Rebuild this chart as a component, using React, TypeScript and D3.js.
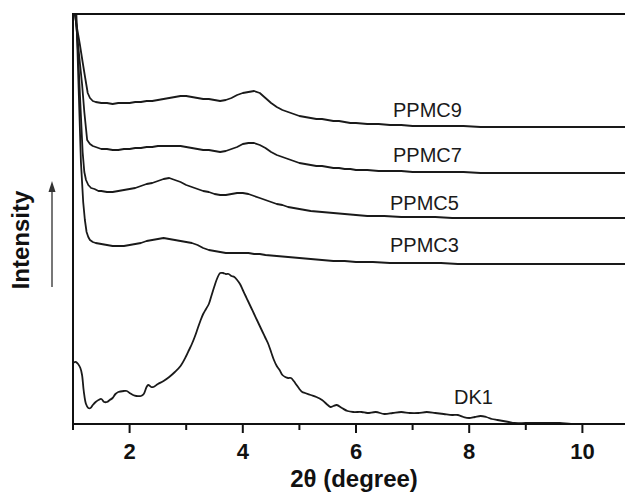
import React from 'react';
import * as d3 from 'd3';

// 2θ (degree) / intensity (arbitrary units, already offset per trace)
const ppmc9Theta = [1.00, 1.03, 1.08, 1.12, 1.17, 1.21, 1.26, 1.30, 1.35, 1.40, 1.50, 1.60, 1.70, 1.80, 1.90, 2.00, 2.10, 2.20, 2.30, 2.40, 2.50, 2.60, 2.70, 2.80, 2.90, 3.00, 3.10, 3.20, 3.30, 3.40, 3.50, 3.60, 3.70, 3.80, 3.90, 4.00, 4.10, 4.20, 4.30, 4.40, 4.50, 4.60, 4.70, 4.80, 4.90, 5.00, 5.10, 5.20, 5.30, 5.40, 5.50, 5.60, 5.70, 5.80, 5.90, 6.00, 6.20, 6.40, 6.60, 6.80, 7.00, 7.30, 7.60, 7.90, 8.20, 8.50, 8.80, 9.10, 9.40, 9.70, 10.00, 10.40, 10.80];
const ppmc9 = [450, 410, 393, 380, 362, 348, 331, 326, 323, 322, 321, 321, 320, 321, 321, 321, 322, 322, 323, 323, 324, 325, 326, 327, 328, 328, 327, 326, 325, 325, 324, 323, 324, 326, 329, 331, 332, 333, 331, 326, 321, 317, 314, 312, 310, 308, 307, 306, 305, 305, 304, 303, 303, 302, 301, 301, 300, 300, 299, 299, 298, 298, 298, 298, 297, 297, 297, 297, 297, 297, 297, 297, 297];

const ppmc7Theta = [1.00, 1.04, 1.08, 1.12, 1.16, 1.20, 1.25, 1.30, 1.35, 1.40, 1.50, 1.60, 1.70, 1.80, 1.90, 2.00, 2.10, 2.20, 2.30, 2.40, 2.50, 2.60, 2.70, 2.80, 2.90, 3.00, 3.10, 3.20, 3.30, 3.40, 3.50, 3.60, 3.70, 3.80, 3.90, 4.00, 4.10, 4.20, 4.30, 4.40, 4.50, 4.60, 4.70, 4.80, 4.90, 5.00, 5.10, 5.20, 5.30, 5.40, 5.50, 5.60, 5.70, 5.80, 5.90, 6.00, 6.20, 6.40, 6.60, 6.80, 7.00, 7.30, 7.60, 7.90, 8.20, 8.50, 8.80, 9.10, 9.40, 9.70, 10.00, 10.40, 10.80];
const ppmc7 = [450, 410, 385, 362, 340, 312, 284, 280, 278, 277, 275, 275, 274, 274, 275, 275, 276, 276, 277, 277, 278, 278, 278, 278, 278, 277, 276, 275, 274, 274, 273, 272, 273, 275, 277, 280, 281, 281, 279, 276, 272, 269, 267, 265, 263, 261, 260, 259, 258, 258, 257, 256, 256, 255, 255, 254, 254, 253, 253, 253, 252, 252, 252, 252, 251, 251, 251, 251, 251, 251, 251, 251, 251];

const ppmc5Theta = [1.00, 1.05, 1.09, 1.13, 1.17, 1.20, 1.23, 1.27, 1.32, 1.38, 1.45, 1.50, 1.60, 1.70, 1.80, 1.90, 2.00, 2.10, 2.20, 2.30, 2.40, 2.50, 2.60, 2.70, 2.80, 2.90, 3.00, 3.10, 3.20, 3.30, 3.40, 3.50, 3.60, 3.70, 3.80, 3.90, 4.00, 4.10, 4.20, 4.30, 4.40, 4.50, 4.60, 4.70, 4.80, 4.90, 5.00, 5.10, 5.20, 5.40, 5.60, 5.80, 6.00, 6.20, 6.50, 6.80, 7.10, 7.40, 7.70, 8.00, 8.30, 8.60, 8.90, 9.20, 9.50, 9.80, 10.10, 10.40, 10.80];
const ppmc5 = [450, 410, 370, 320, 272, 252, 244, 239, 236, 235, 233, 233, 232, 232, 233, 234, 235, 236, 238, 240, 241, 243, 245, 246, 244, 242, 239, 237, 235, 233, 232, 230, 229, 229, 230, 231, 231, 230, 228, 226, 224, 222, 220, 219, 217, 216, 215, 214, 213, 212, 211, 210, 209, 208, 208, 207, 207, 207, 206, 206, 206, 206, 206, 206, 206, 206, 206, 206, 206];

const ppmc3Theta = [1.00, 1.06, 1.10, 1.14, 1.18, 1.21, 1.24, 1.27, 1.30, 1.35, 1.40, 1.50, 1.60, 1.70, 1.80, 1.90, 2.00, 2.10, 2.20, 2.30, 2.40, 2.50, 2.60, 2.70, 2.80, 2.90, 3.00, 3.10, 3.20, 3.30, 3.40, 3.50, 3.60, 3.70, 3.80, 3.90, 4.00, 4.10, 4.20, 4.30, 4.40, 4.60, 4.80, 5.00, 5.20, 5.40, 5.60, 5.80, 6.00, 6.30, 6.60, 6.90, 7.20, 7.50, 7.80, 8.10, 8.40, 8.70, 9.00, 9.30, 9.60, 9.90, 10.20, 10.50, 10.80];
const ppmc3 = [450, 410, 335, 262, 222, 204, 192, 187, 184, 182, 181, 180, 179, 178, 178, 178, 179, 180, 181, 183, 184, 185, 186, 185, 184, 183, 182, 181, 179, 176, 174, 173, 172, 171, 171, 171, 171, 171, 170, 170, 169, 168, 167, 166, 165, 164, 163, 163, 162, 162, 161, 161, 161, 161, 160, 160, 160, 160, 160, 160, 160, 160, 160, 160, 160];

const dk1Theta = [1.00, 1.05, 1.09, 1.13, 1.16, 1.19, 1.23, 1.27, 1.31, 1.35, 1.40, 1.45, 1.50, 1.55, 1.60, 1.65, 1.70, 1.75, 1.80, 1.90, 1.95, 2.00, 2.06, 2.12, 2.20, 2.25, 2.30, 2.33, 2.38, 2.42, 2.50, 2.60, 2.70, 2.80, 2.90, 3.00, 3.05, 3.10, 3.15, 3.20, 3.25, 3.30, 3.35, 3.40, 3.45, 3.50, 3.55, 3.60, 3.65, 3.70, 3.75, 3.80, 3.85, 3.90, 3.95, 4.00, 4.05, 4.10, 4.15, 4.20, 4.25, 4.30, 4.35, 4.40, 4.45, 4.50, 4.55, 4.60, 4.65, 4.70, 4.75, 4.80, 4.85, 4.90, 4.95, 5.00, 5.05, 5.10, 5.20, 5.30, 5.40, 5.50, 5.55, 5.60, 5.66, 5.75, 5.85, 5.95, 6.10, 6.20, 6.35, 6.50, 6.65, 6.80, 6.95, 7.10, 7.25, 7.40, 7.55, 7.70, 7.80, 7.90, 8.00, 8.10, 8.20, 8.30, 8.40, 8.50, 8.60, 8.70, 8.80, 9.00, 9.20, 9.40, 9.60, 9.80, 10.00];
const dk1 = [61, 62, 60, 56, 49, 33, 20, 16, 16, 19, 22, 24, 25, 22, 22, 24, 26, 30, 32, 33, 33, 31, 29, 28, 28, 30, 37, 39, 37, 37, 40, 43, 47, 52, 58, 68, 74, 80, 87, 95, 103, 110, 115, 120, 129, 138, 146, 151, 151, 150, 150, 148, 147, 144, 140, 134, 128, 122, 116, 110, 104, 98, 92, 86, 80, 72, 64, 58, 54, 49, 47, 46, 46, 43, 39, 35, 32, 31, 29, 27, 24, 19, 17, 18, 19, 16, 13, 12, 12, 11, 12, 10, 11, 12, 11, 11, 12, 11, 10, 9, 9, 7, 6, 7, 8, 7, 5, 4, 3, 2, 1, 1, 1, 1, 1, 0, 0];

const seriesNames = ['PPMC9', 'PPMC7', 'PPMC5', 'PPMC3', 'DK1'];
const majorTicks = [2, 4, 6, 8, 10];
const minorTicks = [1, 3, 5, 7, 9];

const W = 625;
const H = 493;
const margin = {top: 14, left: 73, bottom: 69};

const App = () => {
    const x = d3.scaleLinear().domain([1, 11]).range([margin.left, margin.left + 566]);
    const y = d3.scaleLinear().domain([0, 410]).range([H - margin.bottom, margin.top]);
    const y0 = H - margin.bottom;

    const rough = d3.line<[number, number]>().x(d => x(d[0])).y(d => y(d[1]));
    const smooth = d3.line<[number, number]>().x(d => x(d[0])).y(d => y(d[1])).curve(d3.curveCatmullRom);

    const traces = [
        {name: seriesNames[0], pts: d3.zip(ppmc9Theta, ppmc9), line: rough, lx: 393, ly: 117},
        {name: seriesNames[1], pts: d3.zip(ppmc7Theta, ppmc7), line: rough, lx: 393, ly: 162},
        {name: seriesNames[2], pts: d3.zip(ppmc5Theta, ppmc5), line: rough, lx: 390, ly: 210},
        {name: seriesNames[3], pts: d3.zip(ppmc3Theta, ppmc3), line: rough, lx: 390, ly: 252},
        {name: seriesNames[4], pts: d3.zip(dk1Theta, dk1), line: smooth, lx: 454, ly: 404},
    ];

    const font = 'Liberation Sans, Arial, sans-serif';

    return (
        <svg width={W} height={H} style={{position: 'absolute', left: 0, top: 0, background: '#fff'}}
             fontFamily={font}>
            <defs>
                <clipPath id="plot">
                    <rect x={margin.left} y={margin.top} width={W} height={y0 - margin.top}/>
                </clipPath>
            </defs>

            <g clipPath="url(#plot)" fill="none" stroke="#1a1a1a" strokeWidth={1.8} strokeLinejoin="round">
                {traces.map(t => (
                    <path key={t.name} d={t.line(t.pts as [number, number][]) || ''}/>
                ))}
            </g>

            {/* frame */}
            <g stroke="#111" strokeWidth={2} fill="none">
                <line x1={margin.left} x2={margin.left} y1={margin.top - 1} y2={y0 + 1}/>
                <line x1={margin.left - 1} x2={W + 5} y1={margin.top} y2={margin.top}/>
                <line x1={margin.left - 1} x2={W + 5} y1={y0} y2={y0}/>
                {majorTicks.map(t => <line key={'M' + t} x1={x(t)} x2={x(t)} y1={y0} y2={y0 + 9}/>)}
                {minorTicks.map(t => <line key={'m' + t} x1={x(t)} x2={x(t)} y1={y0} y2={y0 + 6}/>)}
            </g>

            {majorTicks.map(t => (
                <text key={'l' + t} x={x(t)} y={459} textAnchor="middle" fontSize={22} fontWeight="bold"
                      fill="#111">{t}</text>
            ))}
            <text x={354} y={487} textAnchor="middle" fontSize={24} fontWeight="bold" fill="#111">2θ (degree)</text>

            <text transform="translate(29,240) rotate(-90)" textAnchor="middle" fontSize={24} fontWeight="bold"
                  fill="#111">Intensity</text>
            <line x1={52} x2={52} y1={287} y2={190} stroke="#555" strokeWidth={1.6}/>
            <path d="M52,181 L48.5,192 L55.5,192 Z" fill="#333"/>

            {traces.map(t => (
                <text key={'t' + t.name} x={t.lx} y={t.ly} fontSize={20} fill="#1a1a1a">{t.name}</text>
            ))}
        </svg>
    );
};

export default App;
